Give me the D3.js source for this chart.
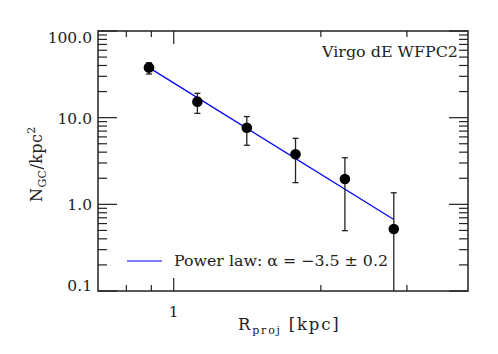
<!DOCTYPE html>
<html><head><meta charset="utf-8">
<script src="https://cdn.jsdelivr.net/npm/d3@7"></script>
<style>body{margin:0;background:#fff}svg{display:block}text{font-family:"DejaVu Serif",serif;fill:#222}</style>
</head><body><svg id="c" width="498" height="354"></svg>
<script>
// data
const rProj = [0.89, 1.118, 1.411, 1.775, 2.24, 2.82];
const nGC = [37.8, 15.3, 7.65, 3.78, 1.96, 0.52];
const errHi = [43, 19.1, 10.3, 5.78, 3.45, 1.36];
const errLo = [31.9, 11.2, 4.8, 1.78, 0.497, 0.07];
const fitX = [0.89, 2.82];
const fitY = [37.8, 0.67];
const xMajor = [1];
const xMinor = [0.8, 0.9, 2, 3];
const yMajor = [0.1, 1, 10, 100];
const yLabels = ["0.1", "1.0", "10.0", "100.0"];
const xLabels = ["1"];

const L = 98, R = 468, T = 31, B = 291;
const x = d3.scaleLog().domain([0.7, 4.0]).range([L, R]);
const y = d3.scaleLog().domain([0.1, 100]).range([B, T]);
const svg = d3.select("#c");
const ink = "#222";

svg.append("defs").append("clipPath").attr("id", "clip")
  .append("rect").attr("x", L).attr("y", T).attr("width", R - L).attr("height", B - T);

// y ticks
const yMinor = [];
[0.1, 1, 10].forEach(d => { for (let k = 2; k <= 9; k++) yMinor.push(d * k); });
const tk = svg.append("g").attr("stroke", ink).attr("stroke-width", 1.2);
yMajor.forEach(v => {
  tk.append("line").attr("x1", L).attr("x2", L + 19).attr("y1", y(v)).attr("y2", y(v));
  tk.append("line").attr("x1", R).attr("x2", R - 19).attr("y1", y(v)).attr("y2", y(v));
});
yMinor.forEach(v => {
  tk.append("line").attr("x1", L).attr("x2", L + 9).attr("y1", y(v)).attr("y2", y(v));
  tk.append("line").attr("x1", R).attr("x2", R - 9).attr("y1", y(v)).attr("y2", y(v));
});
xMajor.forEach(v => {
  tk.append("line").attr("x1", x(v)).attr("x2", x(v)).attr("y1", B).attr("y2", B - 13);
  tk.append("line").attr("x1", x(v)).attr("x2", x(v)).attr("y1", T).attr("y2", T + 13);
});
xMinor.forEach(v => {
  tk.append("line").attr("x1", x(v)).attr("x2", x(v)).attr("y1", B).attr("y2", B - 6);
  tk.append("line").attr("x1", x(v)).attr("x2", x(v)).attr("y1", T).attr("y2", T + 6);
});

// frame
svg.append("rect").attr("x", L).attr("y", T).attr("width", R - L).attr("height", B - T)
  .attr("fill", "none").attr("stroke", ink).attr("stroke-width", 1.5);

// tick labels
yMajor.forEach((v, i) => {
  const base = Math.min(B, Math.max(T + 12, y(v) + 6));
  svg.append("text").attr("x", 92).attr("y", base).attr("text-anchor", "end")
    .attr("font-size", 15.5).text(yLabels[i]);
});
xMajor.forEach((v, i) => {
  svg.append("text").attr("x", x(v)).attr("y", 317).attr("text-anchor", "middle")
    .attr("font-size", 15.5).text(xLabels[i]);
});

// fit line
const plot = svg.append("g").attr("clip-path", "url(#clip)");
plot.append("path").datum(fitX.map((d, i) => [d, fitY[i]]))
  .attr("d", d3.line().x(d => x(d[0])).y(d => y(d[1])))
  .attr("fill", "none").attr("stroke", "#0000ff").attr("stroke-width", 1.2);

// error bars
rProj.forEach((r, i) => {
  const cx = x(r);
  plot.append("line").attr("x1", cx).attr("x2", cx).attr("y1", y(errHi[i])).attr("y2", y(errLo[i]))
    .attr("stroke", ink).attr("stroke-width", 1.3);
  [errHi[i], errLo[i]].forEach(e => {
    plot.append("line").attr("x1", cx - 3).attr("x2", cx + 3).attr("y1", y(e)).attr("y2", y(e))
      .attr("stroke", ink).attr("stroke-width", 1.3);
  });
});
plot.selectAll("circle.pt").data(rProj).enter().append("circle")
  .attr("cx", d => x(d)).attr("cy", (d, i) => y(nGC[i])).attr("r", 5.3).attr("fill", "#000");

// annotation
svg.append("text").attr("x", 458).attr("y", 57).attr("text-anchor", "end")
  .attr("font-size", 15).attr("textLength", 136).attr("lengthAdjust", "spacingAndGlyphs")
  .text("Virgo dE WFPC2");

// legend
svg.append("line").attr("x1", 127).attr("x2", 162).attr("y1", 261).attr("y2", 261)
  .attr("stroke", "#0000ff").attr("stroke-width", 1.2);
svg.append("text").attr("x", 174).attr("y", 266).attr("font-size", 15)
  .attr("textLength", 214).attr("lengthAdjust", "spacingAndGlyphs")
  .text("Power law: α = −3.5 ± 0.2");

// x label
const xl = svg.append("text").attr("x", 238).attr("y", 330).attr("font-size", 16.5)
  .attr("letter-spacing", 1.8);
xl.append("tspan").text("R");
xl.append("tspan").attr("font-size", 11).attr("dy", 4).text("proj");
xl.append("tspan").attr("dy", -4).attr("dx", 7).text("[kpc]");

// y label
const yl = svg.append("text").attr("transform", "translate(42,202) rotate(-90)").attr("font-size", 16)
  .attr("letter-spacing", 0.4);
yl.append("tspan").text("N");
yl.append("tspan").attr("font-size", 11).attr("dy", 4).text("GC");
yl.append("tspan").attr("dy", -4).text("/kpc");
yl.append("tspan").attr("font-size", 11).attr("dy", -7).text("2");
</script></body></html>
